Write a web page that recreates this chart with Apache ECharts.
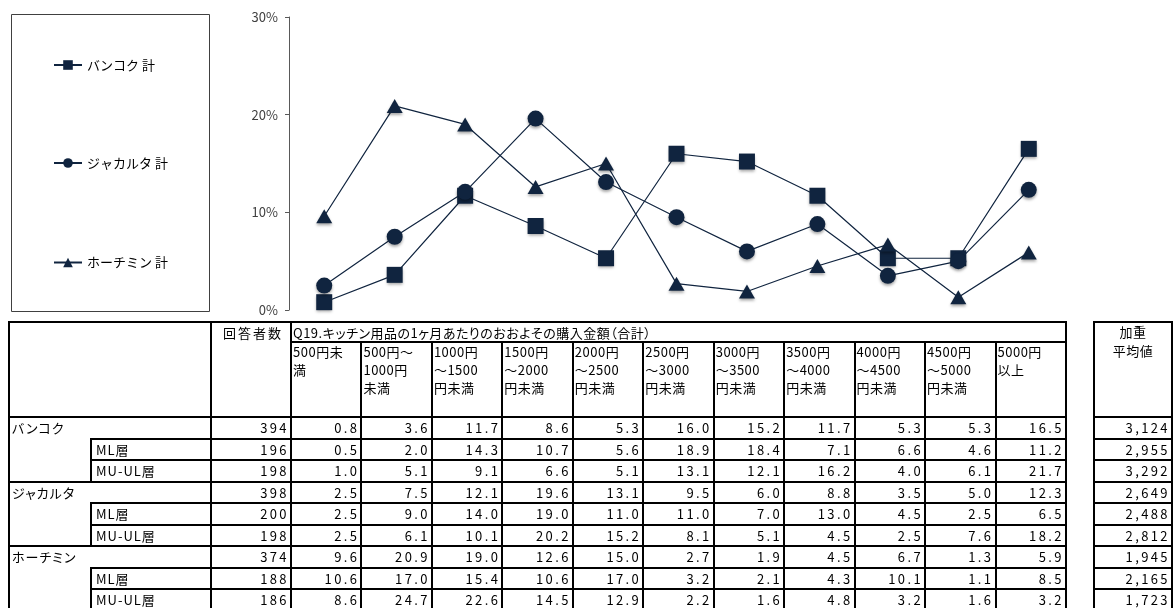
<!DOCTYPE html>
<html><head><meta charset="utf-8">
<script src="https://cdn.jsdelivr.net/npm/echarts@6/dist/echarts.min.js"></script>
<style>
html,body{margin:0;padding:0;background:#fff;}
#wrap{position:relative;width:1173px;height:608px;overflow:hidden;}
#chart{position:absolute;left:0;top:0;width:1173px;height:608px;}
#table{position:absolute;left:0;top:0;width:1173px;height:608px;font-family:"Noto Sans CJK JP",sans-serif;font-size:13px;color:#000;font-feature-settings:"palt";pointer-events:none;}
.ln{position:absolute;background:#000;}
.tx{position:absolute;white-space:pre;letter-spacing:1px;}
.hd{letter-spacing:0.5px;}
.wide{letter-spacing:2px;}
.num{letter-spacing:2.4px;text-align:right;}
</style></head>
<body><div id="wrap"><div id="chart"></div><div id="table"></div></div>
<script>
// ---------- data ----------
const categories = ['500円未\n満','500円～\n1000円\n未満','1000円\n～1500\n円未満','1500円\n～2000\n円未満','2000円\n～2500\n円未満','2500円\n～3000\n円未満','3000円\n～3500\n円未満','3500円\n～4000\n円未満','4000円\n～4500\n円未満','4500円\n～5000\n円未満','5000円\n以上'];
const seriesNames = ['バンコク 計','ジャカルタ 計','ホーチミン 計'];
const yTicks = [0,10,20,30];

const bkkTotal = [0.8,3.6,11.7,8.6,5.3,16.0,15.2,11.7,5.3,5.3,16.5];
const bkkML    = [0.5,2.0,14.3,10.7,5.6,18.9,18.4,7.1,6.6,4.6,11.2];
const bkkMU    = [1.0,5.1,9.1,6.6,5.1,13.1,12.1,16.2,4.0,6.1,21.7];
const jktTotal = [2.5,7.5,12.1,19.6,13.1,9.5,6.0,8.8,3.5,5.0,12.3];
const jktML    = [2.5,9.0,14.0,19.0,11.0,11.0,7.0,13.0,4.5,2.5,6.5];
const jktMU    = [2.5,6.1,10.1,20.2,15.2,8.1,5.1,4.5,2.5,7.6,18.2];
const hcmTotal = [9.6,20.9,19.0,12.6,15.0,2.7,1.9,4.5,6.7,1.3,5.9];
const hcmML    = [10.6,17.0,15.4,10.6,17.0,3.2,2.1,4.3,10.1,1.1,8.5];
const hcmMU    = [8.6,24.7,22.6,14.5,12.9,2.2,1.6,4.8,3.2,1.6,3.2];

const groupLabels = ['バンコク','ジャカルタ','ホーチミン'];
const subLabels = ['ML層','MU-UL層'];
const respondents = [394,196,198,398,200,198,374,188,186];
const weightedAvg = [3124,2955,3292,2649,2488,2812,1945,2165,1723];
const headRespondents = '回答者数';
const headQuestion = 'Q19.キッチン用品の1ヶ月あたりのおおよその購入金額（合計）';
const headAvg = '加重\n平均値';

// ---------- chart ----------
const FONT = '"Noto Sans CJK JP", sans-serif';
const INK = '#10243f';
const chart = echarts.init(document.getElementById('chart'), null, {renderer:'canvas'});
const seriesData = [bkkTotal, jktTotal, hcmTotal];
const symbols = ['rect','circle','triangle'];
const sizes = [16,16,[16,14]];
const legendTops = [58,156,255.5];
chart.setOption({
  animation:false,
  grid:{left:289,right:109,top:17,bottom:298},
  xAxis:{type:'category',data:categories,boundaryGap:true,show:false},
  yAxis:{type:'value',min:yTicks[0],max:yTicks[yTicks.length-1],interval:10,
    axisLine:{show:true,lineStyle:{color:'#595959',width:1}},
    axisTick:{show:true,length:4,lineStyle:{color:'#595959'}},
    splitLine:{show:false},
    axisLabel:{formatter:'{value}%',color:'#404040',fontSize:13,margin:11,fontFamily:FONT}},
  legend: seriesNames.map((n,i)=>({data:[n],left:53,top:legendTops[i],orient:'vertical',
    itemWidth:28,itemHeight:12,padding:0,selectedMode:false,
    textStyle:{fontSize:13,color:'#000',fontFamily:FONT,lineHeight:14}})),
  graphic:[{type:'rect',shape:{x:11.5,y:14.5,width:198,height:297},style:{fill:'none',stroke:'#404040',lineWidth:1},silent:true}],
  series: seriesNames.map((n,i)=>({
    name:n,type:'line',data:seriesData[i],symbol:symbols[i],symbolSize:sizes[i],
    lineStyle:{color:INK,width:1.2},
    itemStyle:{color:INK,shadowBlur:3,shadowOffsetY:2,shadowColor:'rgba(0,0,0,0.35)'},
    emphasis:{disabled:true},z:2+i
  }))
});

// ---------- table ----------
const T = document.getElementById('table');
function hline(x1,x2,y){const d=document.createElement('div');d.className='ln';d.style.cssText=`left:${x1-1}px;top:${y-1}px;width:${x2-x1+2}px;height:2px;`;T.appendChild(d);}
function vline(x,y1,y2){const d=document.createElement('div');d.className='ln';d.style.cssText=`left:${x-1}px;top:${y1-1}px;width:2px;height:${y2-y1+2}px;`;T.appendChild(d);}
function text(str,x,y,w,h,cls,align,lh){const d=document.createElement('div');d.className='tx'+(cls?' '+cls:'');d.textContent=str;
  d.style.cssText=`left:${x}px;top:${y}px;width:${w}px;height:${h}px;line-height:${lh||h}px;text-align:${align||'left'};`;T.appendChild(d);}

const xL=9, xSub=91, xResp=211, xData=291, colW=70.45, xR=1066, bxL=1094, bxR=1172;
const yTop=322, yQ=342, yHead=417, rowH=21.5, yBot=yHead+rowH*9;
const colX = i => xData + i*colW;

hline(xL,xR,yTop); hline(xData,xR,yQ); hline(xL,xR,yHead);
hline(bxL,bxR,yTop); hline(bxL,bxR,yHead);
for(let i=1;i<=9;i++){const y=yHead+i*rowH; hline(i%3===0?xL:xSub,xR,y); hline(bxL,bxR,y);}
vline(xL,yTop,yBot); vline(xResp,yTop,yBot); vline(xData,yTop,yBot); vline(xR,yTop,yBot);
for(let k=1;k<categories.length;k++) vline(colX(k),yQ,yBot);
vline(bxL,yTop,yBot); vline(bxR,yTop,yBot);
for(let g=0;g<3;g++) vline(xSub,yHead+(g*3+1)*rowH,yHead+(g*3+3)*rowH);

text(headRespondents,xResp+2,yTop+0.5,xData-xResp,19,'wide','center',19);
text(headQuestion,xData+2,yTop+0.5,xR-xData,19,'hd','left',19);
categories.forEach((c,k)=>text(c,colX(k)+2,yQ+0.5,colW-2,72,'hd','left',18.4));
text(headAvg,bxL,yTop,bxR-bxL,60,'hd','center',19);

const rows=[bkkTotal,bkkML,bkkMU,jktTotal,jktML,jktMU,hcmTotal,hcmML,hcmMU];
rows.forEach((vals,r)=>{
  const y=yHead+r*rowH;
  if(r%3===0) text(groupLabels[r/3],xL+3,y,190,rowH,'','left');
  else text(subLabels[r%3-1],xSub+5,y,110,rowH,'','left');
  text(String(respondents[r]),xResp,y,xData-xResp-2,rowH,'num','right');
  vals.forEach((v,k)=>text(v.toFixed(1),colX(k),y,colW-2,rowH,'num','right'));
  text(weightedAvg[r].toLocaleString('en-US'),bxL,y,bxR-bxL-2,rowH,'num','right');
});
</script></body></html>
